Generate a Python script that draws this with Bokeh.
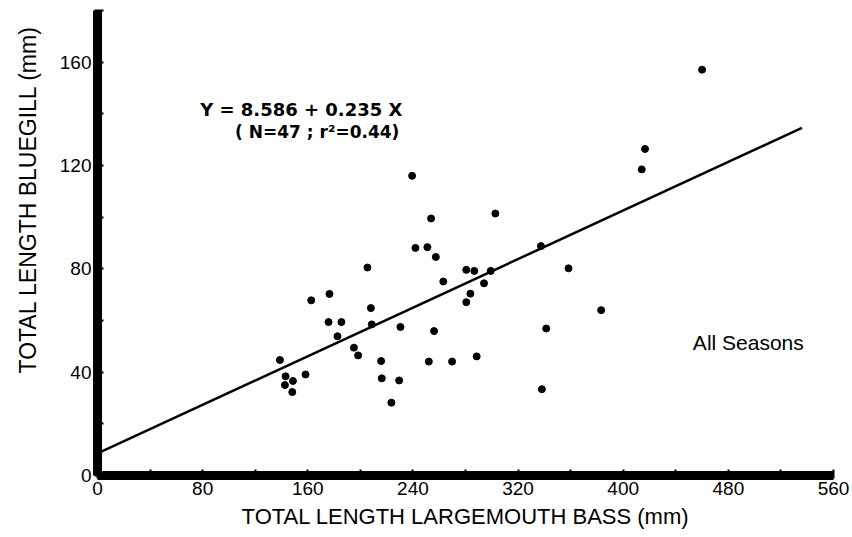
from bokeh.plotting import figure
from bokeh.models import FixedTicker, Label, Range1d, Title
from bokeh.embed import file_html
from bokeh.resources import INLINE

# ---- data ----
bass_length = [138.8, 143.1, 148.7, 142.6, 148.2, 158.3, 162.6, 176.5, 175.8, 185.6,
               182.6, 195.1, 198.3, 205.4, 208.0, 208.7, 215.8, 216.3, 223.6, 229.5,
               230.5, 239.4, 241.9, 251.0, 253.8, 257.4, 256.1, 252.1, 263.1, 269.8,
               280.6, 286.7, 280.6, 283.7, 294.1, 288.5, 299.2, 302.7, 337.4, 341.4,
               338.1, 358.4, 383.2, 414.1, 416.6, 460.0]
bluegill_length = [44.7, 38.4, 36.6, 35.0, 32.3, 39.1, 67.8, 70.3, 59.4, 59.4,
                   53.9, 49.5, 46.5, 80.5, 64.8, 58.5, 44.3, 37.6, 28.2, 36.8,
                   57.5, 116.0, 88.1, 88.4, 99.5, 84.6, 55.9, 44.1, 75.1, 44.1,
                   79.6, 79.2, 67.1, 70.4, 74.4, 46.1, 79.2, 101.4, 88.8, 56.9,
                   33.4, 80.2, 64.0, 118.5, 126.4, 157.1]
intercept = 8.586
slope = 0.235
fit_x = [0, 536]
x_ticks = [0, 80, 160, 240, 320, 400, 480, 560]
x_minor = [40, 120, 200, 280, 360, 440, 520]
y_ticks = [0, 40, 80, 120, 160]
y_minor = [20, 60, 100, 140, 180]
equation_text = "Y = 8.586 + 0.235  X"
stats_text = "( N=47 ; r\u00b2=0.44)"
season_text = "All Seasons"
x_title = "TOTAL LENGTH LARGEMOUTH BASS (mm)"
y_title = "TOTAL LENGTH BLUEGILL (mm)"

fit_y = [intercept + slope * v for v in fit_x]

FONT = "Liberation Sans"

p = figure(width=852, height=537,
           x_range=Range1d(0, 560), y_range=Range1d(0, 180),
           output_backend="svg", toolbar_location=None,
           min_border_left=95, min_border_right=19,
           min_border_top=10, min_border_bottom=62)
p.outline_line_color = None
p.xgrid.visible = False
p.ygrid.visible = False
p.background_fill_color = "white"
p.border_fill_color = "white"

p.axis.axis_line_width = 9
p.axis.axis_line_color = "black"
p.axis.major_tick_line_width = 2
p.axis.minor_tick_line_width = 2
p.axis.major_tick_line_color = "black"
p.axis.minor_tick_line_color = "black"
p.axis.major_tick_in = 6
p.axis.major_tick_out = 3
p.axis.minor_tick_in = 6
p.axis.minor_tick_out = 3
p.axis.major_label_text_font = FONT
p.axis.major_label_text_font_size = "19px"
p.axis.major_label_text_color = "black"
p.axis.major_label_standoff = 3

p.xaxis.ticker = FixedTicker(ticks=x_ticks, minor_ticks=x_minor)
p.yaxis.ticker = FixedTicker(ticks=y_ticks, minor_ticks=y_minor)
p.xaxis.axis_label = x_title
p.xaxis.axis_label_text_font = FONT
p.xaxis.axis_label_text_font_size = "22px"
p.xaxis.axis_label_text_font_style = "normal"
p.xaxis.axis_label_text_color = "black"
p.xaxis.axis_label_standoff = 6
p.yaxis.major_label_orientation = "horizontal"

p.add_layout(Title(text=y_title, align="left", offset=102, vertical_align="top",
                   standoff=28, text_font=FONT, text_font_size="23px",
                   text_font_style="normal", text_color="black"), "left")

p.line(fit_x, fit_y, line_width=2.5, color="black")
p.scatter(bass_length, bluegill_length, size=7, color="black")

p.add_layout(Label(x=78.1, y=137.8, text=equation_text,
                   text_font="DejaVu Sans", text_font_style="bold",
                   text_font_size="18px", text_color="black"))
p.add_layout(Label(x=104.7, y=129.2, text=stats_text,
                   text_font="DejaVu Sans", text_font_style="bold",
                   text_font_size="17px", text_color="black"))
p.add_layout(Label(x=453, y=47.2, text=season_text,
                   text_font=FONT, text_font_size="21px", text_color="black"))

open("out.html", "w").write(file_html(p, INLINE))
